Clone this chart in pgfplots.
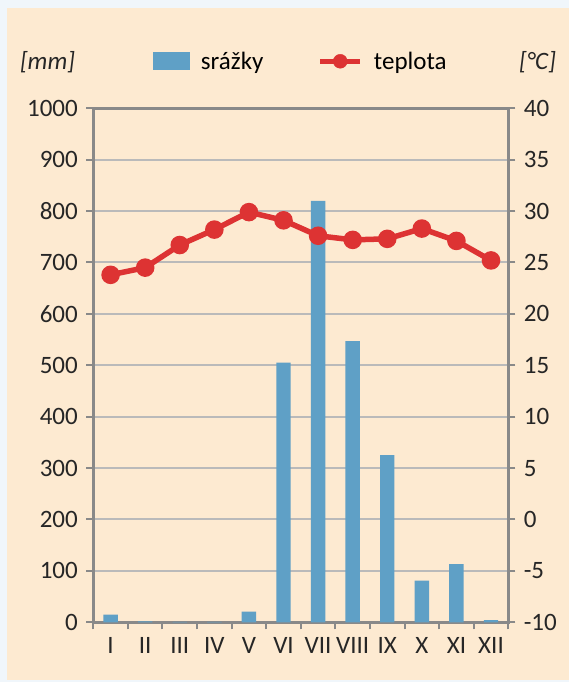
\documentclass[border=0pt]{standalone}
\usepackage{pgfplots}
\pgfplotsset{compat=1.18}
\usepackage{fontspec}
\setmainfont{Carlito}
\definecolor{outerbg}{RGB}{240,246,251}
\definecolor{peach}{RGB}{253,234,209}
\definecolor{barblue}{RGB}{95,160,198}
\definecolor{linered}{RGB}{221,51,51}
\definecolor{gridgray}{RGB}{186,186,186}
\definecolor{axisgray}{RGB}{137,137,137}
\begin{document}
\begin{tikzpicture}[x=1pt,y=1pt]
\fill[outerbg] (0,0) rectangle (569,682);
\fill[peach] (7,1.5) rectangle (569,674);
\begin{axis}[
  at={(93.3pt,59.7pt)}, anchor=south west,
  scale only axis, width=415pt, height=514pt,
  xmin=-0.5, xmax=11.5, ymin=0, ymax=1000,
  ytick={0,100,...,1000},
  xtick={-0.5,0.5,...,11.5},
  x tick label as interval,
  xticklabels={I,II,III,IV,V,VI,VII,VIII,IX,X,XI,XII},
  tick align=outside, major tick length=7pt,
  tick style={axisgray, line width=2pt},
  axis line style={axisgray, line width=2.5pt},
  ytick pos=left, xtick pos=bottom,
  ymajorgrids, grid style={gridgray, line width=2pt},
  /pgf/number format/assume math mode=true,
  /pgf/number format/1000 sep={},
  tick label style={font=\fontsize{25}{30}\selectfont, text=black!85},
  xticklabel style={yshift=-5pt},
  yticklabel style={xshift=-5pt},
  ybar, bar width=14.4pt,
  legend columns=2,
  legend style={draw=none, fill=none, at={(0.5,1)}, anchor=center, yshift=47pt,
    font=\fontsize{25}{30}\selectfont,
    /tikz/every odd column/.append style={column sep=9pt},
    /tikz/every even column/.append style={column sep=52pt}},
]
\addplot[fill=barblue, draw=none, bar shift=0pt,
  legend image code/.code={\fill[barblue] (0pt,-9pt) rectangle (37pt,9pt);}]
  coordinates {(0,15) (1,2) (2,1) (3,1) (4,21) (5,505) (6,820) (7,547) (8,325) (9,81) (10,113) (11,4)};
\addlegendentry{srážky}
\addlegendimage{legend image code/.code={\draw[linered,line width=5.5pt] (0pt,0pt)--(40pt,0pt); \fill[linered] (20pt,0pt) circle (7pt);}}
\addlegendentry{teplota}
\end{axis}
\begin{axis}[
  at={(93.3pt,59.7pt)}, anchor=south west,
  scale only axis, width=415pt, height=514pt,
  xmin=-0.5, xmax=11.5, ymin=-10, ymax=40,
  ytick={-10,-5,...,40},
  axis y line*=right, axis x line=none,
  tick align=outside, major tick length=7pt,
  tick style={axisgray, line width=2pt},
  axis line style={axisgray, line width=2.5pt},
  /pgf/number format/assume math mode=true,
  tick label style={font=\fontsize{25}{30}\selectfont, text=black!85},
  yticklabel style={xshift=5pt},
]
\addplot[linered, line width=5.5pt, mark=*, mark size=6.5pt, mark options={fill=linered}]
  coordinates {(0,23.8) (1,24.5) (2,26.7) (3,28.2) (4,29.9) (5,29.1) (6,27.6) (7,27.2) (8,27.3) (9,28.3) (10,27.1) (11,25.2)};
\end{axis}
\node[font=\fontsize{25}{30}\selectfont\itshape, text=black!85] at (47.5,620) {[mm]};
\node[font=\fontsize{25}{30}\selectfont\itshape, text=black!85] at (537.5,620) {[°C]};
\end{tikzpicture}
\end{document}
